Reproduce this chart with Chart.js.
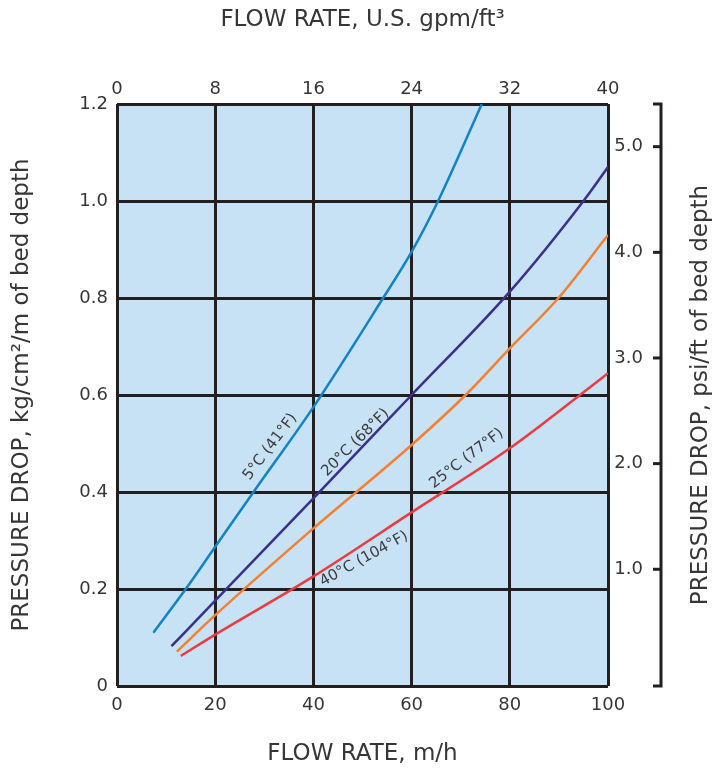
<!DOCTYPE html>
<html>
<head>
<meta charset="utf-8">
<script src="https://cdn.jsdelivr.net/npm/chart.js@4/dist/chart.umd.min.js"></script>
<style>
  html, body { margin: 0; padding: 0; background: #fff; }
  #wrap { width: 715px; height: 771px; position: relative; }
</style>
</head>
<body>
<div id="wrap"><canvas id="chart"></canvas></div>
<script>
// axis ticks
const flowTicks = [0, 20, 40, 60, 80, 100];   // m/h, bottom
const gpmTicks = [0, 8, 16, 24, 32, 40];      // U.S. gpm/ft3, top
const psiTicks = [1, 2, 3, 4, 5];             // psi/ft, right

// curves (flow m/h, pressure drop kg/cm2/m)
const flow5 = [7.4, 14, 20, 27.8, 40, 54.2, 60, 65.4, 74.3];
const drop5 = [0.11, 0.2, 0.287, 0.4, 0.575, 0.8, 0.895, 1.0, 1.2];
const flow20 = [11.1, 20, 40, 60, 80, 95, 100];
const drop20 = [0.082, 0.176, 0.387, 0.6, 0.813, 1.0, 1.07];
const flow25 = [12.2, 20, 40, 60, 71, 80, 89.9, 100];
const drop25 = [0.071, 0.146, 0.325, 0.497, 0.6, 0.696, 0.8, 0.93];
const flow40 = [13, 20, 40, 60, 80, 94.3, 100];
const drop40 = [0.062, 0.106, 0.226, 0.358, 0.49, 0.6, 0.645];

const curveNames = ["5°C (41°F)", "20°C (68°F)", "25°C (77°F)", "40°C (104°F)"];

// where the curve names sit (data coords) and their slant
const nameFlow = [31.2, 48.6, 71.2, 50.3];
const nameDrop = [0.493, 0.502, 0.469, 0.262];
const nameAngle = [53, 45, 37.5, 29];

const gridColor = "#231f20";
const textColor = "#363636";
Chart.defaults.font.family = "'DejaVu Sans', sans-serif";

function pts(xs, ys) {
    return xs.map((x, i) => ({ x: x, y: ys[i] }));
}

function line(label, xs, ys, color) {
    return {
        label: label,
        data: pts(xs, ys),
        borderColor: color,
        borderWidth: 2.5,
        pointRadius: 0,
        cubicInterpolationMode: "monotone",
        xAxisID: "x",
        yAxisID: "y"
    };
}

const plotBg = {
    id: "plotBg",
    beforeDraw(chart) {
        const a = chart.chartArea;
        const ctx = chart.ctx;
        ctx.save();
        ctx.fillStyle = "#c7e1f5";
        ctx.fillRect(a.left, a.top, a.right - a.left, a.bottom - a.top);
        ctx.restore();
    }
};

const extras = {
    id: "extras",
    afterDraw(chart) {
        const ctx = chart.ctx;
        const xs = chart.scales.x;
        const ys = chart.scales.y;
        const s2 = chart.scales.y2;
        ctx.save();

        // curve names
        ctx.fillStyle = "#3c3c3c";
        ctx.font = "15px 'DejaVu Sans', sans-serif";
        ctx.textAlign = "center";
        ctx.textBaseline = "middle";
        curveNames.forEach((n, i) => {
            ctx.save();
            ctx.translate(xs.getPixelForValue(nameFlow[i]), ys.getPixelForValue(nameDrop[i]));
            ctx.rotate(-nameAngle[i] * Math.PI / 180);
            ctx.fillText(n, 0, 0);
            ctx.restore();
        });

        // right psi/ft axis, set off from the plot
        const ax = chart.chartArea.right + 53;
        ctx.strokeStyle = gridColor;
        ctx.lineWidth = 3;
        ctx.beginPath();
        ctx.moveTo(ax - 8, s2.top);
        ctx.lineTo(ax, s2.top);
        ctx.lineTo(ax, s2.bottom);
        ctx.lineTo(ax - 8, s2.bottom);
        ctx.stroke();

        ctx.font = "18px 'DejaVu Sans', sans-serif";
        ctx.fillStyle = textColor;
        ctx.textAlign = "right";
        psiTicks.forEach(v => {
            const py = s2.getPixelForValue(v);
            ctx.beginPath();
            ctx.moveTo(ax - 8, py);
            ctx.lineTo(ax, py);
            ctx.stroke();
            ctx.fillText(v.toFixed(1), ax - 18, py);
        });

        ctx.font = "23px 'DejaVu Sans', sans-serif";
        ctx.textAlign = "center";
        ctx.translate(ax + 40, (s2.top + s2.bottom) / 2);
        ctx.rotate(-Math.PI / 2);
        ctx.fillText("PRESSURE DROP, psi/ft of bed depth", 0, 0);
        ctx.restore();
    }
};

new Chart(document.getElementById("chart"), {
    type: "line",
    data: {
        datasets: [
            line(curveNames[0], flow5, drop5, "#1183c6"),
            line(curveNames[1], flow20, drop20, "#3a2f8c"),
            line(curveNames[2], flow25, drop25, "#f4802f"),
            line(curveNames[3], flow40, drop40, "#ec3b3f")
        ]
    },
    options: {
        responsive: true,
        maintainAspectRatio: false,
        animation: false,
        layout: { padding: 0 },
        plugins: {
            legend: { display: false },
            tooltip: { enabled: false }
        },
        scales: {
            x: {
                type: "linear",
                position: "bottom",
                min: 0,
                max: 100,
                afterBuildTicks: s => { s.ticks = flowTicks.map(v => ({ value: v })); },
                afterFit: s => { s.height = 85; },
                ticks: { color: textColor, font: { size: 18 }, padding: 9 },
                grid: { color: gridColor, lineWidth: 3, drawTicks: false },
                border: { display: false },
                title: {
                    display: true,
                    text: "FLOW RATE, m/h",
                    color: textColor,
                    font: { size: 23 },
                    padding: { top: 0, bottom: 3 }
                }
            },
            x2: {
                type: "linear",
                position: "top",
                min: 0,
                max: 40,
                afterBuildTicks: s => { s.ticks = gpmTicks.map(v => ({ value: v })); },
                afterFit: s => { s.height = 104; },
                ticks: { color: textColor, font: { size: 18 }, padding: 4 },
                grid: { display: false, drawTicks: false },
                border: { display: false },
                title: {
                    display: true,
                    text: "FLOW RATE, U.S. gpm/ft³",
                    color: textColor,
                    font: { size: 23 },
                    padding: { top: 6, bottom: 0 }
                }
            },
            y: {
                type: "linear",
                position: "left",
                min: 0,
                max: 1.2,
                ticks: {
                    stepSize: 0.2,
                    color: textColor,
                    font: { size: 18 },
                    padding: 9,
                    callback: v => (v === 0 ? "0" : v.toFixed(1))
                },
                afterFit: s => { s.width = 117; },
                grid: { color: gridColor, lineWidth: 3, drawTicks: false },
                border: { display: false },
                title: {
                    display: true,
                    text: "PRESSURE DROP, kg/cm²/m of bed depth",
                    color: textColor,
                    font: { size: 23 },
                    padding: { top: 8, bottom: 0 }
                }
            },
            y2: {
                type: "linear",
                position: "right",
                min: -0.105,
                max: 5.404,
                afterFit: s => { s.width = 107; },
                ticks: { display: false },
                grid: { display: false, drawTicks: false },
                border: { display: false }
            }
        }
    },
    plugins: [plotBg, extras]
});
</script>
</body>
</html>
